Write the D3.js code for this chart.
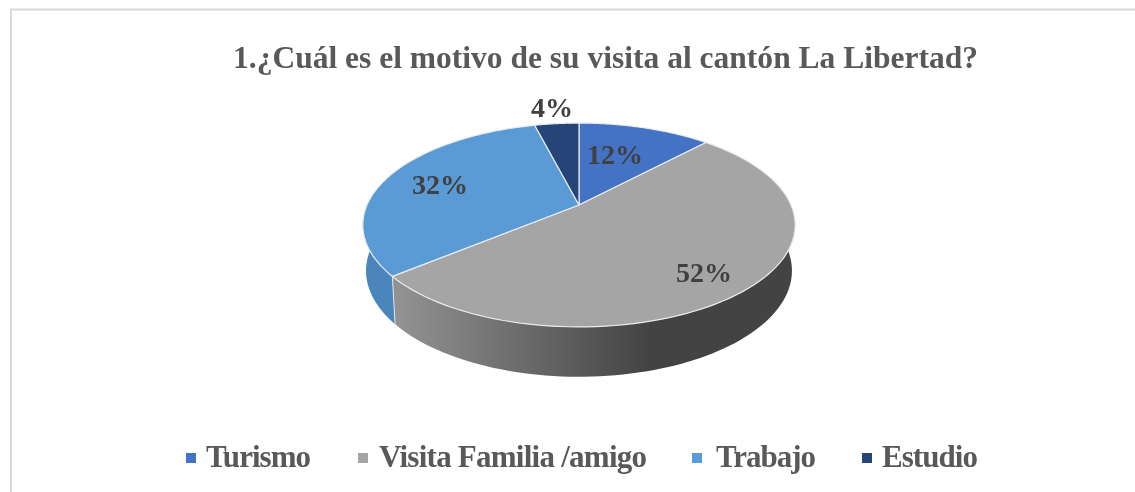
<!DOCTYPE html>
<html><head><meta charset="utf-8">
<script src="https://cdn.jsdelivr.net/npm/d3@7"></script>
<style>html,body{margin:0;padding:0;background:#fff;overflow:hidden}svg{display:block;filter:blur(0.45px)}
text{font-family:"Liberation Serif",serif;font-weight:bold;fill:#595959}</style></head>
<body><svg id="c" width="1135" height="492"></svg>
<script>
const titleText = "1.¿Cuál es el motivo de su visita al cantón La Libertad?";
const categories = ["Turismo","Visita Familia /amigo","Trabajo","Estudio"];
const values = [12,52,32,4];
const colors = ["#4472c4","#a5a5a5","#5b9bd5","#264478"];
const wallColors = [null,null,"#4a85bb",null];
const labelPos = [[615,164],[704,282],[440,194],[552,117]];
const legendSwatchX = [186,358,692,862];
const legendTextX = [206,379,716,882];
const legendTextW = [105,268,100,96];

const svg = d3.select("#c");
const defs = svg.append("defs");
const grad = defs.append("linearGradient").attr("id","wall").attr("gradientUnits","userSpaceOnUse")
  .attr("x1",398).attr("x2",650).attr("y1",0).attr("y2",0);
grad.append("stop").attr("offset",0).attr("stop-color","#929292");
grad.append("stop").attr("offset",1).attr("stop-color","#434343");

svg.append("rect").attr("x",11).attr("y",9.5).attr("width",1200).attr("height",600)
  .attr("fill","#fff").attr("stroke","#d9d9d9").attr("stroke-width",2);

svg.append("text").attr("x",233).attr("y",68).attr("font-size",31.5)
  .attr("textLength",745).attr("lengthAdjust","spacing").text(titleText);

const cx=579, cy=205, R=212, S=98, K=0.196;
function proj(a,sx=1,sy=1,dy=0){
  const x=Math.sin(a), y=-Math.cos(a), w=1-K*y;
  return [cx+sx*R*x/w, cy+dy+sy*S*y/w];
}
const arcs = d3.pie().sort(null)(values);
const line = d3.line().curve(d3.curveLinear);
const N = 90;
function angles(a0,a1){return d3.range(N+1).map(i=>a0+(a1-a0)*i/N);}
const wallLo=Math.PI*0.42, wallHi=Math.PI*1.58;
// walls
arcs.forEach((d,i)=>{
  const a0=Math.max(d.startAngle,wallLo), a1=Math.min(d.endAngle,wallHi);
  if(a1<=a0) return;
  const as=angles(a0,a1);
  const top=as.map(a=>proj(a));
  const bot=as.map(a=>proj(a,0.985,1.04,45)).reverse();
  svg.append("path").attr("d",line(top.concat(bot))+"Z")
    .attr("fill",i===1?"url(#wall)":wallColors[i]);
});
// slanted seam on the wall
const seam=arcs[1].endAngle;
svg.append("path").attr("d",line([proj(seam),proj(seam,0.985,1.04,45)]))
  .attr("stroke","#dfe6ec").attr("stroke-width",1).attr("fill","none");
// tops
arcs.forEach((d,i)=>{
  const pts=angles(d.startAngle,d.endAngle).map(a=>proj(a));
  svg.append("path").attr("d",line([[cx,cy]].concat(pts))+"Z")
    .attr("fill",colors[i]).attr("stroke","#e8ecef").attr("stroke-width",1.2).attr("stroke-linejoin","round");
});
// labels
values.forEach((v,i)=>{
  svg.append("text").attr("x",labelPos[i][0]).attr("y",labelPos[i][1]).attr("text-anchor","middle")
    .attr("font-size",28).style("fill","#404040").text(v+"%");
});
// legend
categories.forEach((c,i)=>{
  svg.append("rect").attr("x",legendSwatchX[i]).attr("y",453).attr("width",10).attr("height",10).attr("fill",colors[i]);
  svg.append("text").attr("x",legendTextX[i]).attr("y",467).attr("font-size",31)
    .attr("textLength",legendTextW[i]).attr("lengthAdjust","spacing").text(c);
});
</script></body></html>
